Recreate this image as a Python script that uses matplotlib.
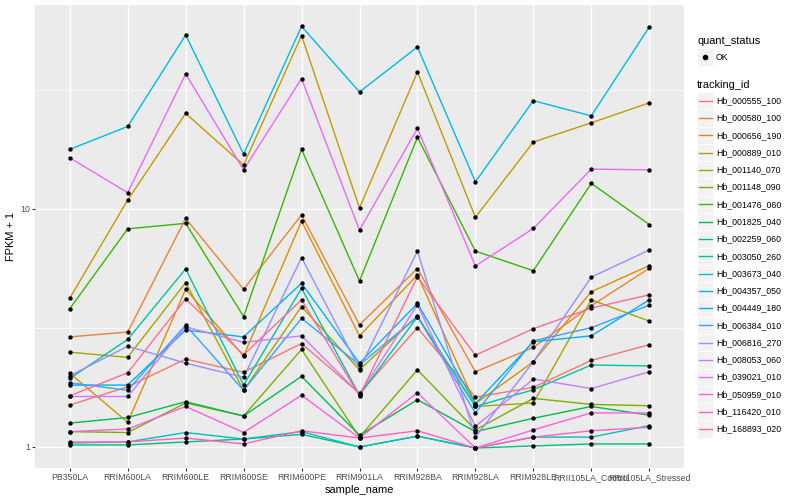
import numpy as np
import matplotlib.pyplot as plt
from matplotlib.lines import Line2D
from matplotlib.patches import Rectangle
from matplotlib.ticker import FixedLocator, NullFormatter

plt.rcParams['font.family'] = ['Liberation Sans', 'DejaVu Sans']

# samples on the x axis
samples = ["PB350LA", "RRIM600LA", "RRIM600LE", "RRIM600SE", "RRIM600PE",
           "RRIM901LA", "RRIM928BA", "RRIM928LA", "RRIM928LE",
           "RRII105LA_Control", "RRII105LA_Stressed"]

# FPKM + 1 per gene
hb_000555_100 = [1.50, 1.79, 2.34, 2.06, 2.72, 1.68, 3.17, 1.62, 1.78, 2.31, 2.69]
hb_000580_100 = [2.90, 3.04, 9.12, 4.60, 9.44, 3.26, 5.62, 2.07, 2.62, 3.92, 5.63]
hb_000656_190 = [2.04, 1.27, 4.60, 2.41, 8.89, 2.93, 5.28, 1.52, 2.28, 4.49, 5.78]
hb_000889_010 = [4.22, 10.9, 25.2, 15.3, 53.5, 10.1, 37.6, 9.22, 19.1, 23.0, 27.9]
hb_001140_070 = [2.50, 2.38, 4.90, 1.73, 3.89, 2.11, 3.55, 1.48, 1.53, 4.15, 3.38]
hb_001148_090 = [1.16, 1.15, 1.53, 1.35, 2.57, 1.10, 2.11, 1.18, 1.60, 1.51, 1.49]
hb_001476_060 = [3.81, 8.25, 8.70, 3.53, 17.8, 4.98, 20.0, 6.65, 5.50, 12.8, 8.60]
hb_001825_040 = [1.26, 1.33, 1.55, 1.35, 1.98, 1.12, 1.58, 1.16, 1.32, 1.48, 1.36]
hb_002259_060 = [1.02, 1.02, 1.05, 1.08, 1.13, 1.00, 1.11, 0.99, 1.01, 1.03, 1.03]
hb_003050_260 = [1.94, 2.83, 5.60, 1.82, 4.64, 1.65, 3.52, 1.48, 1.74, 2.21, 2.19]
hb_003673_040 = [1.04, 1.05, 1.15, 1.08, 1.16, 1.00, 1.11, 0.99, 1.10, 1.10, 1.23]
hb_004357_050 = [17.8, 22.2, 53.8, 17.0, 58.5, 31.0, 47.9, 13.0, 28.5, 24.6, 58.1]
hb_004449_180 = [1.82, 1.82, 3.10, 2.90, 4.87, 2.25, 4.01, 1.52, 2.77, 2.93, 4.15]
hb_006384_010 = [1.86, 1.73, 3.25, 1.73, 3.47, 2.21, 3.53, 1.39, 2.79, 3.17, 3.94]
hb_006816_270 = [1.99, 2.65, 2.25, 1.96, 6.25, 2.13, 6.65, 1.10, 2.28, 5.17, 6.72]
hb_008053_060 = [1.63, 1.63, 3.20, 2.75, 2.93, 1.67, 3.95, 1.22, 1.93, 1.76, 2.07]
hb_039021_010 = [16.4, 11.7, 36.9, 14.6, 35.3, 8.14, 21.8, 5.76, 8.28, 14.7, 14.6]
hb_050959_010 = [1.16, 1.19, 1.48, 1.15, 1.65, 1.09, 1.69, 0.99, 1.18, 1.39, 1.39]
hb_116420_010 = [1.05, 1.05, 1.09, 1.03, 1.17, 1.09, 1.17, 0.99, 1.10, 1.17, 1.21]
hb_168893_020 = [1.64, 2.05, 4.19, 2.44, 4.15, 1.64, 5.19, 2.43, 3.14, 3.83, 4.36]

tracking_ids = ["Hb_000555_100", "Hb_000580_100", "Hb_000656_190", "Hb_000889_010",
                "Hb_001140_070", "Hb_001148_090", "Hb_001476_060", "Hb_001825_040",
                "Hb_002259_060", "Hb_003050_260", "Hb_003673_040", "Hb_004357_050",
                "Hb_004449_180", "Hb_006384_010", "Hb_006816_270", "Hb_008053_060",
                "Hb_039021_010", "Hb_050959_010", "Hb_116420_010", "Hb_168893_020"]
series = [hb_000555_100, hb_000580_100, hb_000656_190, hb_000889_010, hb_001140_070,
          hb_001148_090, hb_001476_060, hb_001825_040, hb_002259_060, hb_003050_260,
          hb_003673_040, hb_004357_050, hb_004449_180, hb_006384_010, hb_006816_270,
          hb_008053_060, hb_039021_010, hb_050959_010, hb_116420_010, hb_168893_020]

# ggplot hue palette, 20 levels
colors = ["#F8766D", "#EA8331", "#D89000", "#C09B00", "#A3A500", "#7CAE00", "#39B600",
          "#00BB4E", "#00BF7D", "#00C1A3", "#00BFC4", "#00BAE0", "#00B0F6", "#35A2FF",
          "#9590FF", "#C77CFF", "#E76BF3", "#FA62DB", "#FF62BC", "#FF6C91"]

W, H = 800, 500
fig = plt.figure(figsize=(8, 5), dpi=100)
ax = fig.add_axes([35 / W, 1 - 468 / H, (684 - 35) / W, (468 - 5) / H])
ax.set_facecolor("#EBEBEB")

x = np.arange(len(samples))
for vals, col in zip(series, colors):
    ax.plot(x, vals, color=col, lw=1.0, zorder=2)
    ax.scatter(x, vals, s=10, color="black", zorder=3, linewidths=0)

ax.set_yscale("log")
ax.set_ylim(0.816, 71.9)
ax.set_xlim(-0.6, len(samples) - 0.4)
ax.yaxis.set_major_locator(FixedLocator([1, 10]))
ax.set_yticklabels(["1", "10"])
ax.yaxis.set_minor_locator(FixedLocator([10 ** 0.5, 10 ** 1.5]))
ax.yaxis.set_minor_formatter(NullFormatter())
ax.set_xticks(x)
ax.set_xticklabels(samples)

ax.grid(True, which="major", color="white", lw=1.0, zorder=0)
ax.grid(True, which="minor", axis="y", color="white", lw=0.5, zorder=0)
ax.set_axisbelow(True)
for s in ax.spines.values():
    s.set_visible(False)
ax.tick_params(which="major", length=2.0, width=0.8, color="#333333",
               labelsize=6.3, labelcolor="#4D4D4D", pad=1.5)
ax.tick_params(which="minor", length=0)

ax.set_xlabel("sample_name", fontsize=7.9, labelpad=2)
ax.set_ylabel("FPKM + 1", fontsize=7.9, labelpad=3)

# legends, drawn in figure pixel positions
def fx(px):
    return px / W

def fy(py):
    return 1 - py / H

fig.text(fx(697), fy(40.5), "quant_status", fontsize=7.9, va="center", ha="left")
fig.patches.append(Rectangle((fx(697), fy(65.5)), 16 / W, 17 / H, transform=fig.transFigure,
                             facecolor="#F2F2F2", edgecolor="white", lw=0.6))
fig.lines.append(Line2D([fx(705)], [fy(57)], transform=fig.transFigure, marker="o",
                        markersize=3.0, color="black", lw=0))
fig.text(fx(716), fy(57), "OK", fontsize=6.3, va="center", ha="left")

fig.text(fx(697), fy(84.5), "tracking_id", fontsize=7.9, va="center", ha="left")
step = 17.28
for i, (name, col) in enumerate(zip(tracking_ids, colors)):
    cy = 100.7 + i * step
    fig.patches.append(Rectangle((fx(697), fy(cy + step / 2)), 16 / W, step / H,
                                 transform=fig.transFigure, facecolor="#F2F2F2",
                                 edgecolor="white", lw=0.6))
    fig.lines.append(Line2D([fx(699), fx(712)], [fy(cy), fy(cy)], transform=fig.transFigure,
                            color=col, lw=1.0))
    fig.text(fx(716), fy(cy), name, fontsize=6.3, va="center", ha="left")

fig.savefig("out.png", dpi=100)
